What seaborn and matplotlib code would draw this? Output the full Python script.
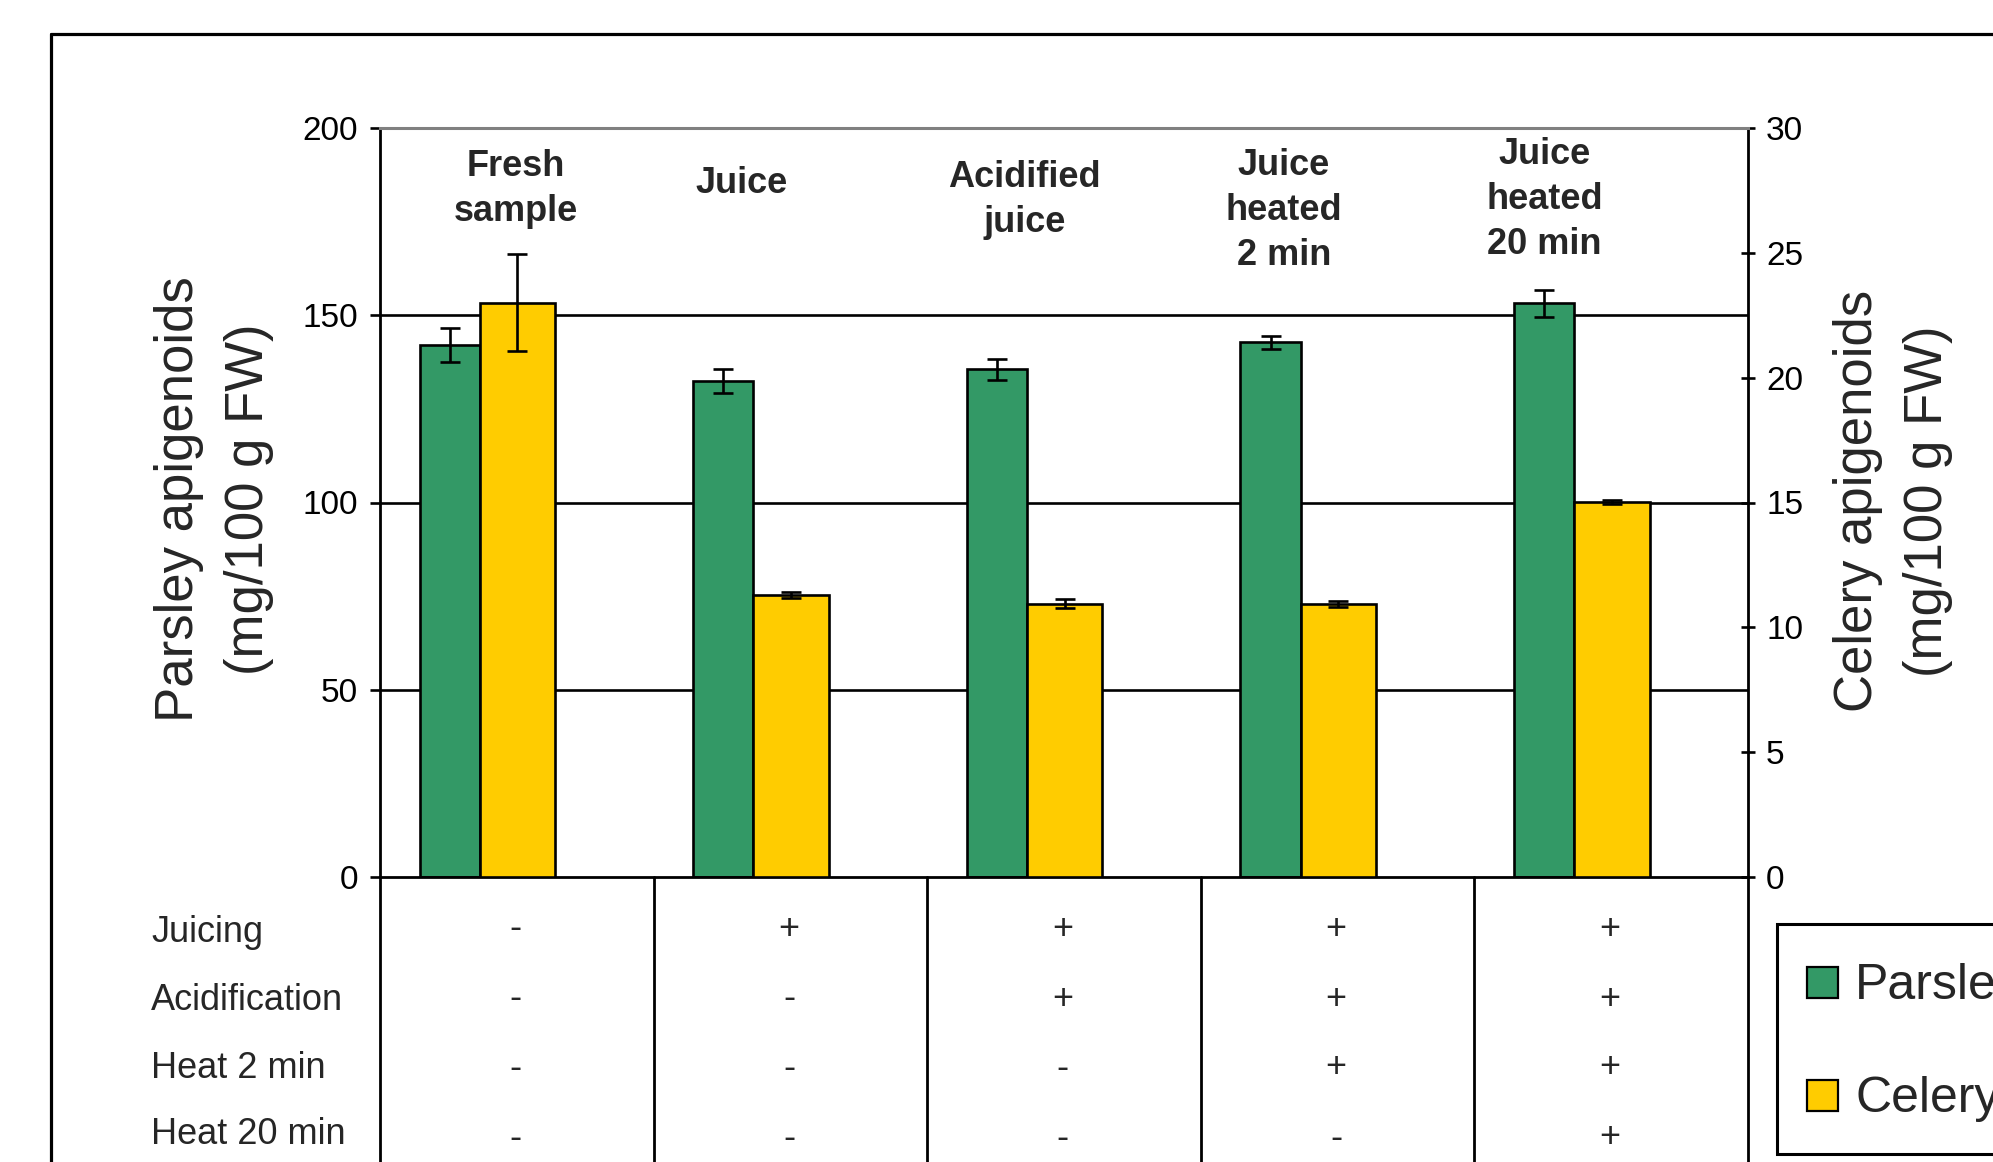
import matplotlib
matplotlib.use("Agg")
import matplotlib.pyplot as plt
from matplotlib.patches import Patch, Rectangle
from matplotlib.lines import Line2D
from matplotlib.legend_handler import HandlerPatch
from matplotlib.transforms import blended_transform_factory
import seaborn as sns
import numpy as np
import pandas as pd

# ---------------- data ----------------
groups = ["Fresh\nsample", "Juice", "Acidified\njuice", "Juice\nheated\n2 min", "Juice\nheated\n20 min"]
parsley = [142.1, 132.4, 135.6, 142.8, 153.2]
parsley_err = [4.5, 3.2, 2.8, 1.7, 3.6]
celery = [23.0, 11.3, 10.95, 10.93, 15.03]
celery_err = [1.95, 0.13, 0.18, 0.12, 0.08]

row_labels = ["Juicing", "Acidification", "Heat 2 min", "Heat 20 min"]
juicing = ["-", "+", "+", "+", "+"]
acidification = ["-", "-", "+", "+", "+"]
heat_2min = ["-", "-", "-", "+", "+"]
heat_20min = ["-", "-", "-", "-", "+"]

left_ticks = [0, 50, 100, 150, 200]
right_ticks = [0, 5, 10, 15, 20, 25, 30]
series_names = ["Parsley", "Celery"]

# ---------------- style ----------------
sns.set_style("white")
plt.rcParams["font.family"] = ["Liberation Sans", "DejaVu Sans"]

GREEN = "#339966"
YELLOW = "#FFCC00"

W, H = 1993, 1162
fig = plt.figure(figsize=(W / 100, H / 100), dpi=100)
fig.patch.set_facecolor("white")

ax_left, ax_right = 380 / W, 1748 / W
ax_bottom, ax_top = 1 - 877 / H, 1 - 128 / H
ax = fig.add_axes([ax_left, ax_bottom, ax_right - ax_left, ax_top - ax_bottom])
ax2 = ax.twinx()

n = len(groups)
idx = np.arange(n)

# layout offsets (positions inside each group)
green_off, green_w = -0.245, 0.22
yellow_off, yellow_w = 0.0025, 0.275

df_p = pd.DataFrame({"pos": idx + green_off, "value": parsley})
df_c = pd.DataFrame({"pos": idx + yellow_off, "value": celery})

sns.barplot(data=df_p, x="pos", y="value", native_scale=True, width=green_w,
            color=GREEN, saturation=1, edgecolor="black", linewidth=1.9,
            errorbar=None, ax=ax, zorder=2)
sns.barplot(data=df_c, x="pos", y="value", native_scale=True, width=yellow_w,
            color=YELLOW, saturation=1, edgecolor="black", linewidth=1.9,
            errorbar=None, ax=ax2, zorder=2)

ax.errorbar(idx + green_off, parsley, yerr=parsley_err, fmt="none", ecolor="black",
            elinewidth=1.9, capsize=7.5, capthick=1.9, zorder=3)
ax2.errorbar(idx + yellow_off, celery, yerr=celery_err, fmt="none", ecolor="black",
             elinewidth=1.9, capsize=7.5, capthick=1.9, zorder=3)

# axes limits and ticks
ax.set_xlim(-0.5, n - 0.5)
ax.set_ylim(left_ticks[0], left_ticks[-1])
ax2.set_ylim(right_ticks[0], right_ticks[-1])
ax.set_yticks(left_ticks)
ax2.set_yticks(right_ticks)
ax.set_xticks([])
ax2.set_xticks([])
ax.set_xlabel("")
ax.set_ylabel("")
ax2.set_xlabel("")
ax2.set_ylabel("")

ax.tick_params(axis="y", direction="out", length=7, width=1.9, pad=9,
               labelsize=24, colors="black", left=True)
ax2.tick_params(axis="y", direction="inout", length=10, width=1.9, pad=8,
                labelsize=24, colors="black", right=True)

# grid lines
ax.yaxis.grid(True, color="black", linewidth=1.9)
ax.set_axisbelow(True)
gl = ax.get_ygridlines()
gl[0].set_visible(False)
gl[-1].set_visible(False)

for s in ["left", "right", "top", "bottom"]:
    ax.spines[s].set_visible(False)
    ax2.spines[s].set_visible(False)
ax.spines["left"].set_visible(True)
ax.spines["left"].set_color("black")
ax.spines["left"].set_linewidth(2.0)
ax.spines["bottom"].set_visible(True)
ax.spines["bottom"].set_color("black")
ax.spines["bottom"].set_linewidth(2.0)
ax2.spines["right"].set_visible(True)
ax2.spines["right"].set_color("black")
ax2.spines["right"].set_linewidth(2.0)
ax2.spines["top"].set_visible(True)
ax2.spines["top"].set_color("#808080")
ax2.spines["top"].set_linewidth(2.2)

# group labels (bold) above bars; y = baseline of the last line
lab_dx = [-0.005, -0.18, -0.145, -0.197, -0.243]
lab_y = [175.2, 182.6, 172.1, 163.4, 166.3]
for i, g in enumerate(groups):
    ax.text(i + lab_dx[i], lab_y[i], g, ha="center", va="baseline", fontsize=26,
            fontweight="bold", linespacing=1.37, multialignment="center", zorder=4)

# table under the plot
trans = blended_transform_factory(ax.transData, fig.transFigure)
for k in range(n + 1):
    ax.add_line(Line2D([k - 0.5, k - 0.5], [0, ax_bottom], transform=trans,
                       color="black", linewidth=2.0, clip_on=False))

rows = [juicing, acidification, heat_2min, heat_20min]
row_y = [1 - 933 / H, 1 - 1000 / H, 1 - 1068 / H, 1 - 1135 / H]
sign_y = [1 - 929 / H, 1 - 999 / H, 1 - 1068 / H, 1 - 1138 / H]
for r, (lab, vals) in enumerate(zip(row_labels, rows)):
    fig.text(151 / W, row_y[r], lab, ha="left", va="center", fontsize=26)
    for i, v in enumerate(vals):
        ax.text(i - 0.005, sign_y[r], v, transform=trans, ha="center", va="center",
                fontsize=26, clip_on=False)

# axis titles
fig.text(214 / W, 1 - 499 / H, "Parsley apigenoids\n(mg/100 g FW)", rotation=90,
         ha="center", va="center", fontsize=38, linespacing=1.52, multialignment="center")
fig.text(1893 / W, 1 - 501 / H, "Celery apigenoids\n(mg/100 g FW)", rotation=90,
         ha="center", va="center", fontsize=38, linespacing=1.52, multialignment="center")

# outer frame (partially cropped in the original)
fx, fy = 51 / W, 1 - 34 / H
fig.add_artist(Line2D([fx, 1.0], [fy, fy], transform=fig.transFigure, color="black", linewidth=2.3))
fig.add_artist(Line2D([fx, fx], [fy, 0.0], transform=fig.transFigure, color="black", linewidth=2.3))


# legend: small square centred in a taller handle box
def square_patch(legend, orig_handle, xdescent, ydescent, width, height, fontsize):
    s = 0.62 * fontsize
    return Rectangle((-xdescent + (width - s) / 2, -ydescent + (height - s) / 2), s, s)


handles = [Patch(facecolor=GREEN, edgecolor="black", linewidth=1.6, label=series_names[0]),
           Patch(facecolor=YELLOW, edgecolor="black", linewidth=1.6, label=series_names[1])]
leg = fig.legend(handles=handles, loc="upper left", bbox_to_anchor=(1777 / W, 1 - 924 / H),
                 frameon=True, fancybox=False, edgecolor="black", framealpha=1,
                 fontsize=36, handlelength=0.62, handleheight=1.38, handletextpad=0.34,
                 borderpad=0.6, labelspacing=1.12, borderaxespad=0,
                 handler_map={Patch: HandlerPatch(patch_func=square_patch)})
leg.get_frame().set_linewidth(2.2)

fig.savefig("out.png", dpi=100, facecolor="white")
